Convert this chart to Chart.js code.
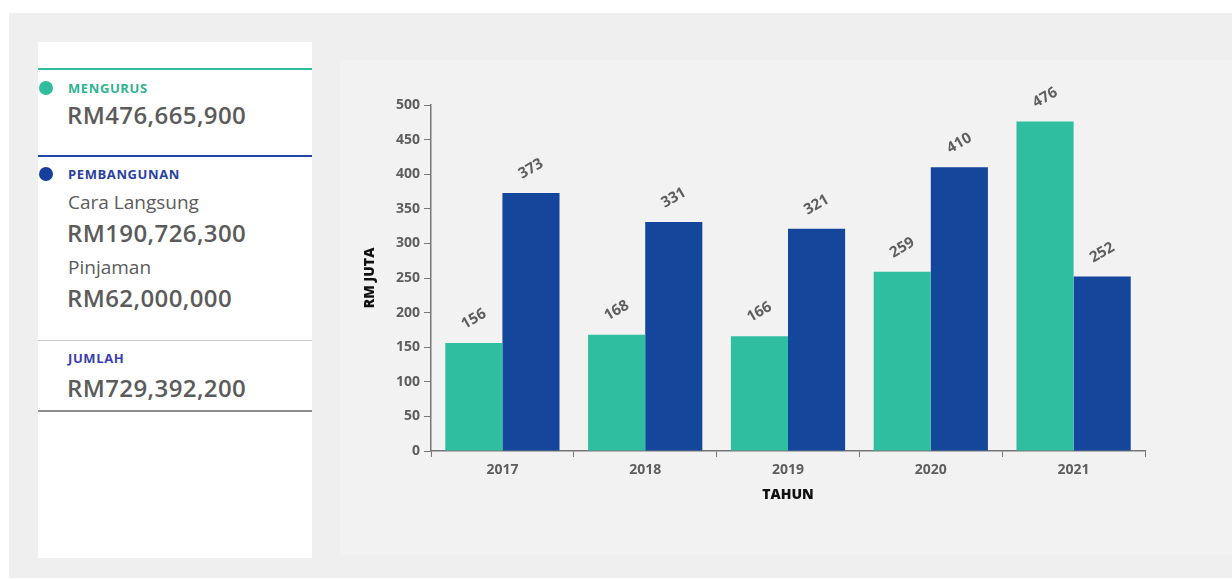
<!DOCTYPE html>
<html>
<head>
<meta charset="utf-8">
<script src="https://cdn.jsdelivr.net/npm/chart.js@4"></script>
<style>
  html, body { margin: 0; padding: 0; background: #ffffff; }
  body { width: 1232px; height: 579px; position: relative; overflow: hidden; font-family: "Open Sans", "Noto Sans", sans-serif; }
  #bg { position: absolute; left: 9px; top: 13px; width: 1223px; height: 565px; background: #efefef; }
  #side { position: absolute; left: 38px; top: 42px; width: 274px; height: 516px; background: #ffffff; }
  #chartPanel { position: absolute; left: 340px; top: 60px; width: 892px; height: 495px; background: #f2f2f2; }
  .rule { position: absolute; left: 0; width: 274px; }
  .dot { position: absolute; left: 1px; width: 14px; height: 14px; border-radius: 50%; }
  .tag { position: absolute; left: 30px; font-size: 13px; font-weight: 700; letter-spacing: 0.6px; }
  .amt { position: absolute; left: 29px; font-size: 24px; font-weight: 600; color: #5b5b5b; letter-spacing: 0.4px; }
  .sub { position: absolute; left: 30px; font-size: 19px; font-weight: 500; color: #5b5b5b; }
  canvas { position: absolute; left: 0; top: 0; }
</style>
</head>
<body>
<div id="bg"></div>
<div id="side">
  <div class="rule" style="top:26px;height:2px;background:#2fbd9c"></div>
  <div class="dot" style="top:39px;background:#2fbd9c"></div>
  <div class="tag" style="top:37px;color:#2fb393">MENGURUS</div>
  <div class="amt" style="top:56px">RM476,665,900</div>

  <div class="rule" style="top:113px;height:2px;background:#2347a6"></div>
  <div class="dot" style="top:125px;background:#163f9c"></div>
  <div class="tag" style="top:123px;color:#2a3fa3">PEMBANGUNAN</div>
  <div class="sub" style="top:147px">Cara Langsung</div>
  <div class="amt" style="top:174px">RM190,726,300</div>
  <div class="sub" style="top:212px">Pinjaman</div>
  <div class="amt" style="top:239px">RM62,000,000</div>

  <div class="rule" style="top:298px;height:1px;background:#c9c9c9"></div>
  <div class="tag" style="top:307px;color:#3a3db0">JUMLAH</div>
  <div class="amt" style="top:329px">RM729,392,200</div>
  <div class="rule" style="top:368px;height:2px;background:#8c8c8c"></div>
</div>
<div id="chartPanel">
  <canvas id="chart" width="892" height="495"></canvas>
</div>
<script>
// data
const years = ['2017', '2018', '2019', '2020', '2021'];
const mengurus = [156, 168, 166, 259, 476];
const pembangunan = [373, 331, 321, 410, 252];
const yTicks = [0, 50, 100, 150, 200, 250, 300, 350, 400, 450, 500];

const GREEN = '#2fbfa0';
const BLUE = '#14479b';
const LABEL_GRAY = '#5e5e5e';
const AXIS_GRAY = '#777777';
const FONT = '"Open Sans", sans-serif';

// draw the rotated value above each bar
const valueLabels = {
  id: 'valueLabels',
  afterDatasetsDraw(chart) {
    const ctx = chart.ctx;
    ctx.save();
    ctx.font = '700 15px ' + FONT;
    ctx.fillStyle = LABEL_GRAY;
    ctx.textAlign = 'center';
    ctx.textBaseline = 'middle';
    chart.data.datasets.forEach((ds, i) => {
      chart.getDatasetMeta(i).data.forEach((bar, j) => {
        ctx.save();
        ctx.translate(bar.x, bar.y - 24);
        ctx.rotate(-30 * Math.PI / 180);
        ctx.fillText(String(ds.data[j]), 0, 0);
        ctx.restore();
      });
    });
    ctx.restore();
  }
};

new Chart(document.getElementById('chart'), {
  type: 'bar',
  data: {
    labels: years,
    datasets: [
      { label: 'Mengurus', data: mengurus, backgroundColor: GREEN },
      { label: 'Pembangunan', data: pembangunan, backgroundColor: BLUE }
    ]
  },
  options: {
    responsive: false,
    animation: false,
    devicePixelRatio: 1,
    layout: { padding: { top: 45, right: 87, left: 22, bottom: 52 } },
    plugins: { legend: { display: false }, tooltip: { enabled: false } },
    datasets: { bar: { categoryPercentage: 0.8, barPercentage: 1.0 } },
    scales: {
      x: {
        border: { color: AXIS_GRAY, width: 1.5 },
        grid: { display: true, drawOnChartArea: false, drawTicks: true, tickLength: 6, color: AXIS_GRAY, offset: true },
        ticks: { color: LABEL_GRAY, font: { family: FONT, size: 14, weight: '700' }, padding: 5 },
        title: { display: true, text: 'TAHUN', color: '#111111', font: { family: FONT, size: 14, weight: '800' }, padding: { top: 0, bottom: 0 } },
        afterFit(scale) { scale.height = 52; }
      },
      y: {
        min: 0,
        max: 500,
        afterBuildTicks(scale) { scale.ticks = yTicks.map(v => ({ value: v })); },
        border: { color: AXIS_GRAY, width: 1.5 },
        grid: { display: true, drawOnChartArea: false, drawTicks: true, tickLength: 7, color: AXIS_GRAY },
        ticks: { color: LABEL_GRAY, font: { family: FONT, size: 14, weight: '700' }, padding: 4 },
        title: { display: true, text: 'RM JUTA', color: '#111111', font: { family: FONT, size: 14, weight: '800' }, padding: { top: 0, bottom: 0 } },
        afterFit(scale) { scale.width = 69; }
      }
    }
  },
  plugins: [valueLabels]
});
</script>
</body>
</html>
